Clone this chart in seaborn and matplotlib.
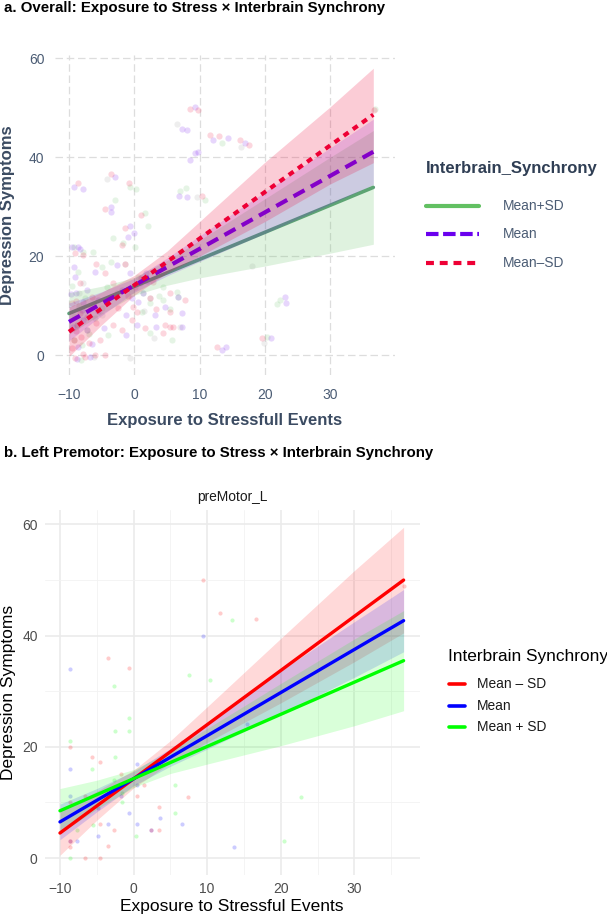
import matplotlib
matplotlib.use("Agg")
import matplotlib.pyplot as plt
from matplotlib.lines import Line2D
from matplotlib.ticker import MultipleLocator
import seaborn as sns

# ---------------- panel a: overall ----------------
fit_x_a = [-10, 36.6]
line_plus_a = [8.4, 33.9]
line_mean_a = [6.7, 41.1]
line_minus_a = [4.7, 48.6]

band_x_a = [-10, -5, 0, 5, 10, 20, 30, 36.6]
plus_lo_a = [4.2, 8.3, 12.1, 14.1, 15.6, 18.0, 20.6, 22.4]
plus_hi_a = [12.6, 13.9, 15.7, 19.1, 23.2, 31.6, 40.0, 45.4]
mean_lo_a = [2.9, 8.0, 12.7, 16.0, 18.9, 24.6, 30.5, 34.5]
mean_hi_a = [10.5, 12.8, 15.5, 19.6, 24.1, 33.0, 41.9, 47.7]
minus_lo_a = [-0.3, 6.1, 12.1, 16.6, 20.0, 27.0, 34.6, 38.9]
minus_hi_a = [9.7, 12.7, 16.1, 21.0, 27.0, 39.0, 50.2, 58.0]

# raw points (jittered) per group
red_pts_x = [8.5, 9.8, -8.6, -3.6, -0.8, -4.5, 1.1, -1.4, -1.9, -9.1, -7.8, -5.8, -4.5, -1.4,
             -8.3, -6.5, -3.2, 0.1, 2.4, 3.4, 5.5, -8.3, -8.8, -8.1, -5.8, -3.2, -1.9, 1.6,
             4.7, 6.0, -7.8, -9.1, -6.0, -4.5, 11.6, 12.9, 16.2, 17.5, 10.3, 5.5, 7.8, 5.5,
             19.5, 12.6, 36.7, -9.3, 4.4, -0.4, 0.4, -9.0, -7.0, -2.5, 1.0,
             -9.5, -8.9, -7.2, -6.6, -9.6, -1.0, 2.8, -0.2, -5.2, -7.5]
red_pts_y = [49.7, 49.5, 34.8, 36.7, 34.8, 29.5, 28.3, 25.6, 22.2, 20.6, 20.2, 18.5, 16.5, 18.5,
             14.5, 11.8, 14.5, 13.8, 11.5, 9.4, 8.8, 8.4, 6.1, 3.7, 6.4, 6.1, 5.1, 5.4,
             6.1, 5.7, 0.3, -0.7, 0.0, 0.0, 44.5, 44.2, 43.5, 42.5, 32.2, 12.5, 11.1, 5.7,
             3.4, 1.7, 49.5, 3.0, 4.4, 7.1, 8.8, 11.0, 2.5, 9.5, 15.5,
             1.5, 4.8, 7.6, 9.8, 10.5, 12.0, 14.8, 9.8, 3.0, -0.5]

pur_pts_x = [9.3, 7.3, 8.0, 9.3, 9.8, 8.5, -9.3, -7.8, -3.0, -3.5, -3.5, -0.7, 0.0, -0.9,
             -8.6, -8.3, -9.3, -9.1, -6.0, -2.7, -0.7, -7.3, -7.8, -1.9, 1.4, 0.6, 4.7, 6.7,
             -7.8, -7.3, -4.7, -1.2, 0.4, 3.4, 7.3, -8.6, -6.8, 6.9, 8.0, 12.1, 14.4, 17.0,
             23.1, 23.3, 21.0, 14.0, 13.4, 7.3, -1.2, -9.6, -9.0, -5.5, 2.0,
             -9.4, -8.0, -6.4, -9.7, -5.6, 0.9, -0.3, 3.2, 1.8, -8.8]
pur_pts_y = [50.1, 45.8, 45.5, 40.8, 41.1, 39.4, 34.0, 33.5, 36.0, 30.0, 29.0, 26.0, 24.6, 23.9,
             21.9, 21.5, 17.8, 15.8, 16.8, 18.2, 16.5, 13.1, 10.8, 13.1, 12.5, 10.8, 9.8, 11.8,
             7.1, 5.1, 5.4, 4.0, 6.1, 5.7, 5.7, 1.7, -0.3, 32.2, 32.0, 43.5, 43.8, 42.8,
             11.8, 10.6, 3.4, 1.7, 1.1, 8.4, 8.1, 21.9, 12.5, 9.0, 15.0,
             5.6, 9.2, 2.2, 12.4, 11.2, 14.6, 11.5, 8.0, 16.5, -0.8]

grn_pts_x = [-0.7, 0.3, -3.0, 1.6, 2.1, 7.0, 7.9, -1.7, -9.3, -7.8, -6.3, -8.6, -5.0, -3.5,
             -4.2, -2.7, 2.4, 6.7, -8.8, -4.0, 2.4, 5.7, -8.1, -7.3, 4.4, 6.5, 4.4, 22.3,
             21.8, 20.3, 10.8, -3.2, 0.1, 13.4, -9.3, 1.4, 5.5, 36.9, -6.0, -8.5,
             -9.2, -7.6, -6.9, -9.5, -5.0, 0.5, 1.2, -0.5, -8.0, 3.8]
grn_pts_y = [33.9, 33.5, 31.3, 28.8, 26.0, 33.2, 33.8, 22.6, 21.9, 20.9, 20.9, 16.8, 17.8, 18.9,
             13.8, 12.5, 10.5, 11.8, 6.1, 4.0, 4.4, 3.0, -1.0, 5.1, 13.8, 12.8, 11.1, 11.1,
             10.3, 3.7, 31.3, 23.6, 21.9, 42.8, 3.0, 12.5, 9.4, 49.8, 7.5, 10.0,
             7.8, 11.6, 4.2, 14.0, 9.6, 15.8, 8.6, 13.0, 2.0, 12.0]

gry_pts_x = [6.5, 9.6, 18.0, -0.7, 19.8, 16.4, 7.0, -4.2, 2.4, -1.4, -7.8, 3.0, -5.0,
             -8.5, -6.2, 1.5]
gry_pts_y = [46.7, 32.0, 18.0, -0.7, 2.4, 42.1, 5.7, 35.5, 11.5, 18.5, 14.5, 3.5, 8.0,
             12.5, -0.4, 9.0]

# ---------------- panel b: left premotor ----------------
fit_x_b = [-10, 36.7]
line_minus_b = [4.5, 50.0]
line_mean_b = [6.5, 42.7]
line_plus_b = [8.5, 35.5]

band_x_b = [-10, -5, 0, 5, 10, 20, 30, 36.7]
minus_lo_b = [0.5, 6.8, 12.6, 17.1, 20.8, 27.9, 35.3, 40.5]
minus_hi_b = [8.5, 12.0, 15.8, 21.1, 27.2, 39.5, 51.7, 59.5]
mean_lo_b = [3.3, 8.3, 13.0, 16.5, 19.6, 25.9, 32.5, 37.1]
mean_hi_b = [9.7, 12.5, 15.6, 19.7, 24.4, 33.7, 42.5, 48.3]
plus_lo_b = [4.5, 8.8, 12.7, 15.2, 16.9, 20.2, 23.8, 26.5]
plus_hi_b = [12.5, 14.0, 15.9, 19.2, 23.3, 31.4, 39.4, 44.5]

red_b_x = [9.5, 11.7, 16.6, -3.5, -0.6, -8.6, -5.6, -4.6, -1.7, 0.4, 1.4, 7.4, 3.5, -2.6,
           3.4, 2.4, -6.6, -8.6, -8.6, -8.6, -3.5, -6.6, -4.6, -4.6, 36.8]
red_b_y = [50, 44.1, 43, 35.9, 34.1, 20, 18.1, 17.2, 15.1, 11.1, 13.1, 10.9, 9.2, 5,
           5, 5.1, 11.1, 10, 3, 2, 2.2, 0, 0, 6.1, 49]
blu_b_x = [-8.6, 9.4, -8.6, 0.4, -1.7, 0.4, -4.8, -0.6, -3.5, 0.4, 3.6, 6.6, -4.8, -7.7,
           -8.6, 2.4, 13.7, 15.4, -8.6]
blu_b_y = [34, 40, 16.1, 17, 11.1, 13.1, 9, 8.1, 6.1, 6.1, 7.2, 6.1, 4, 3,
           3, 5.1, 2, 24.1, 11.1]
grn_b_x = [-8.6, -2.6, -2.5, -0.6, -0.6, -2.5, -5.6, -2.7, -1.6, 10.4, 7.6, 13.4, 5.6, 5.6,
           0.3, -5.5, -7.7, -8.6, -1.6, 20.4, 22.7, 6.6]
grn_b_y = [21.1, 31, 22.9, 25.1, 22.9, 18.1, 16, 14.1, 11.7, 32, 32.9, 42.9, 13.1, 8.1,
           4, 6, 5, 0, 10, 3, 10.9, 20.9]

# colours
c_plus_a, c_mean_a, c_minus_a = "#62C062", "#6A00EE", "#EE0035"
c_plus_a_line = "#5C9E78"   # green fit line looks dimmer under the ribbons
c_minus_b, c_mean_b, c_plus_b = "#FF0000", "#0000FF", "#00FF00"
slate, slate_dark = "#4B5C74", "#3B4B62"

sns.set_theme(style="white")
plt.rcParams["font.family"] = ["Liberation Sans", "DejaVu Sans"]

W, H = 607, 917
fig = plt.figure(figsize=(W / 100, H / 100), dpi=100)


def fx(px):
    return px / W


def fy(py):
    return 1 - py / H


# ================= panel a =================
ax1 = fig.add_axes([fx(55.4), fy(375), fx(394.6) - fx(55.4), fy(55) - fy(375)])
for xs, ys, c in [(gry_pts_x, gry_pts_y, "#9a9a9a"), (grn_pts_x, grn_pts_y, c_plus_a),
                  (pur_pts_x, pur_pts_y, c_mean_a), (red_pts_x, red_pts_y, c_minus_a)]:
    sns.scatterplot(x=xs, y=ys, color=c, alpha=0.16, s=20, linewidth=0, ax=ax1, zorder=1)

# each group: line, then its ribbon on top (as in the original)
sns.lineplot(x=fit_x_a, y=line_plus_a, color=c_plus_a_line, linewidth=2.6, ax=ax1, zorder=2)
ax1.fill_between(band_x_a, plus_lo_a, plus_hi_a, color=c_plus_a, alpha=0.2, linewidth=0, zorder=3)
sns.lineplot(x=fit_x_a, y=line_mean_a, color=c_mean_a, linewidth=3,
             linestyle=(0, (3.0, 1.75)), ax=ax1, zorder=4)
ax1.fill_between(band_x_a, mean_lo_a, mean_hi_a, color=c_mean_a, alpha=0.16, linewidth=0, zorder=5)
sns.lineplot(x=fit_x_a, y=line_minus_a, color=c_minus_a, linewidth=3,
             linestyle=(0, (1.4, 1.3)), ax=ax1, zorder=6)
ax1.fill_between(band_x_a, minus_lo_a, minus_hi_a, color=c_minus_a, alpha=0.2, linewidth=0, zorder=7)

ax1.set_xlim(-12.08, 39.86)
ax1.set_ylim(-4.04, 60.67)
ax1.set_xticks([-10, 0, 10, 20, 30])
ax1.set_yticks([0, 20, 40, 60])
ax1.grid(True, color="#dddddd", linewidth=0.9, linestyle=(0, (6, 3)))
ax1.set_axisbelow(True)
for s in ax1.spines.values():
    s.set_visible(False)
ax1.tick_params(length=0, labelsize=10, labelcolor=slate)
ax1.tick_params(axis="y", pad=8)
ax1.tick_params(axis="x", pad=9)
ax1.set_xlabel("Exposure to Stressfull Events", fontsize=12, fontweight="bold",
               color=slate_dark, labelpad=8)
ax1.set_ylabel("Depression Symptoms", fontsize=12, fontweight="bold",
               color=slate_dark, labelpad=10)

fig.text(fx(4), fy(8), "a. Overall: Exposure to Stress \u00d7 Interbrain Synchrony",
         fontsize=10.8, fontweight="bold", ha="left", va="center", color="black")

# legend a (drawn by hand)
fig.text(fx(426), fy(168), "Interbrain_Synchrony", fontsize=12, fontweight="bold",
         color="#2F3E54", ha="left", va="center")
leg_a = [("Mean+SD", c_plus_a, "-", 206), ("Mean", c_mean_a, (0, (3.0, 1.1)), 234),
         ("Mean\u2013SD", c_minus_a, (0, (1.9, 1.4)), 263)]
for lab, c, ls, yy in leg_a:
    fig.add_artist(Line2D([fx(426), fx(479)], [fy(yy), fy(yy)], color=c, linewidth=3,
                          linestyle=ls, transform=fig.transFigure))
    fig.text(fx(503), fy(yy), lab, fontsize=9.9, color=slate, ha="left", va="center")

# ================= panel b =================
ax2 = fig.add_axes([fx(44.6), fy(875), fx(419.8) - fx(44.6), fy(510) - fy(875)])
for xs, ys, c in [(grn_b_x, grn_b_y, c_plus_b), (blu_b_x, blu_b_y, c_mean_b),
                  (red_b_x, red_b_y, c_minus_b)]:
    sns.scatterplot(x=xs, y=ys, color=c, alpha=0.2, s=9, linewidth=0, ax=ax2, zorder=1)

for lo, hi, c in [(minus_lo_b, minus_hi_b, c_minus_b), (mean_lo_b, mean_hi_b, c_mean_b),
                  (plus_lo_b, plus_hi_b, c_plus_b)]:
    ax2.fill_between(band_x_b, lo, hi, color=c, alpha=0.15, linewidth=0, zorder=2)
for ys, c in [(line_minus_b, c_minus_b), (line_mean_b, c_mean_b), (line_plus_b, c_plus_b)]:
    sns.lineplot(x=fit_x_b, y=ys, color=c, linewidth=2.4, ax=ax2, zorder=3)

ax2.set_xlim(-12.09, 38.9)
ax2.set_ylim(-3.05, 62.6)
ax2.set_xticks([-10, 0, 10, 20, 30])
ax2.set_yticks([0, 20, 40, 60])
ax2.xaxis.set_minor_locator(MultipleLocator(5))
ax2.yaxis.set_minor_locator(MultipleLocator(10))
ax2.grid(True, which="major", color="#ebebeb", linewidth=1.2)
ax2.grid(True, which="minor", color="#f2f2f2", linewidth=0.6)
ax2.set_axisbelow(True)
for s in ax2.spines.values():
    s.set_visible(False)
ax2.tick_params(which="both", length=0, labelsize=10, labelcolor="#4d4d4d")
ax2.tick_params(axis="y", pad=5)
ax2.tick_params(axis="x", pad=5)
ax2.set_xlabel("Exposure to Stressful Events", fontsize=12.5, color="black", labelpad=2)
ax2.set_ylabel("Depression Symptoms", fontsize=12.5, color="black", labelpad=4)

fig.text(fx(232), fy(497), "preMotor_L", fontsize=9.9, color="#1a1a1a", ha="center", va="center")
fig.text(fx(4), fy(453), "b. Left Premotor: Exposure to Stress \u00d7 Interbrain Synchrony",
         fontsize=10.8, fontweight="bold", ha="left", va="center", color="black")

fig.text(fx(448), fy(657), "Interbrain Synchrony", fontsize=12.4, color="black",
         ha="left", va="center")
leg_b = [("Mean \u2013 SD", c_minus_b, 684), ("Mean", c_mean_b, 706), ("Mean + SD", c_plus_b, 727)]
for lab, c, yy in leg_b:
    fig.add_artist(Line2D([fx(449), fx(465)], [fy(yy), fy(yy)], color=c, linewidth=2.6,
                          transform=fig.transFigure))
    fig.text(fx(477), fy(yy), lab, fontsize=9.9, color="#1a1a1a", ha="left", va="center")

fig.savefig("out.png", dpi=100)
